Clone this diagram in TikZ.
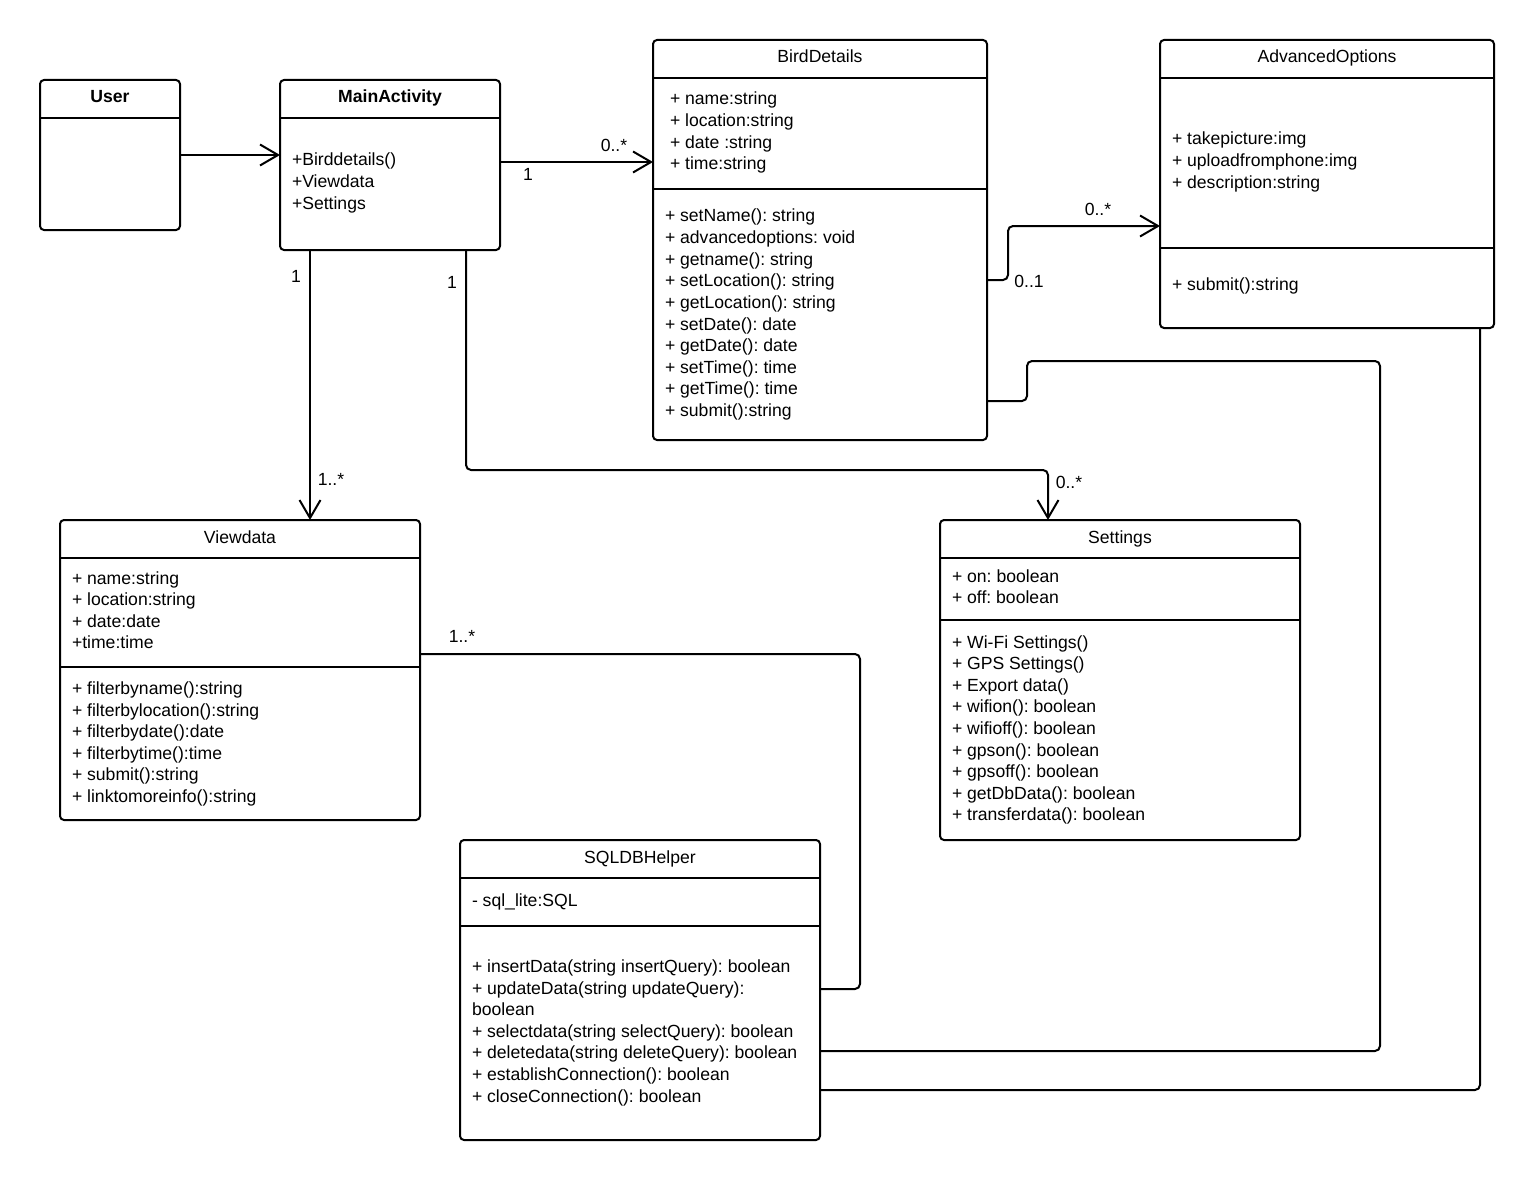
\documentclass[tikz,border=0pt]{standalone}
\usepackage{fontspec}
\setmainfont{Liberation Sans}
\frenchspacing
\usetikzlibrary{arrows.meta}
\newcommand\classlines[4]{%
  \foreach \t [count=\i] in {#4} {%
    \node[txt, anchor=base west] (#1\i) at (#2,{#3+(\i-1)*21.6}) {\t};
  }%
}
\begin{document}
\begin{tikzpicture}[x=1pt,y=-1pt,
  every node/.style={inner sep=0pt, outer sep=0pt},
  txt/.style={font=\fontsize{17.6}{21.6}\selectfont\frenchspacing},
  ttl/.style={txt, anchor=base},
  bttl/.style={font=\fontsize{17.6}{21.6}\selectfont\bfseries, anchor=base},
  lbl/.style={txt, anchor=center},
  classbox/.style={draw, line width=2pt, rounded corners=4pt, anchor=north west},
  divider/.style={line width=2pt},
  conn/.style={line width=2pt, rounded corners=5pt},
  arr/.style={conn, -{Straight Barb[length=18pt,width=21pt]}}
]
\useasboundingbox[fill=white] (0,0) rectangle (1535,1180);

% ---------- classes ----------
\node[classbox, minimum width=140pt, minimum height=150pt] (user) at (40,80) {};
\node[classbox, minimum width=220pt, minimum height=170pt] (main) at (280,80) {};
\node[classbox, minimum width=334pt, minimum height=400pt] (bird) at (653,40) {};
\node[classbox, minimum width=334pt, minimum height=288pt] (adv) at (1160,40) {};
\node[classbox, minimum width=360pt, minimum height=300pt] (view) at (60,520) {};
\node[classbox, minimum width=360pt, minimum height=320pt] (sett) at (940,520) {};
\node[classbox, minimum width=360pt, minimum height=300pt] (sql) at (460,840) {};

% dividers
\draw[divider] (user.west |- 0,118) -- (user.east |- 0,118);
\draw[divider] (main.west |- 0,118) -- (main.east |- 0,118);
\draw[divider] (bird.west |- 0,78) -- (bird.east |- 0,78);
\draw[divider] (bird.west |- 0,189) -- (bird.east |- 0,189);
\draw[divider] (adv.west |- 0,78) -- (adv.east |- 0,78);
\draw[divider] (adv.west |- 0,248) -- (adv.east |- 0,248);
\draw[divider] (view.west |- 0,558) -- (view.east |- 0,558);
\draw[divider] (view.west |- 0,667) -- (view.east |- 0,667);
\draw[divider] (sett.west |- 0,558) -- (sett.east |- 0,558);
\draw[divider] (sett.west |- 0,620) -- (sett.east |- 0,620);
\draw[divider] (sql.west |- 0,878) -- (sql.east |- 0,878);
\draw[divider] (sql.west |- 0,926) -- (sql.east |- 0,926);

% titles
\node[bttl] (userT) at (110,103) {User};
\node[bttl] (mainT) at (390,103) {MainActivity};
\node[ttl] (birdT) at (820,63) {BirdDetails};
\node[ttl] (advT) at (1327,63) {AdvancedOptions};
\node[ttl] (viewT) at (240,543) {Viewdata};
\node[ttl] (settT) at (1120,543) {Settings};
\node[ttl] (sqlT) at (640,863) {SQLDBHelper};

% members
\classlines{mainM}{292}{166}{+Birddetails(), +Viewdata, +Settings}
\classlines{birdA}{670}{105}{+ name:string, + location:string, + date :string, + time:string}
\classlines{birdM}{665}{222}{+ setName(): string, + advancedoptions: void, + getname(): string, + setLocation(): string, + getLocation(): string, + setDate(): date, + getDate(): date, + setTime(): time, + getTime(): time, + submit():string}
\classlines{advA}{1172}{145}{+ takepicture:img, + uploadfromphone:img, + description:string}
\classlines{advM}{1172}{290}{+ submit():string}
\classlines{viewA}{72}{584}{+ name:string, + location:string, + date:date, +time:time}
\classlines{viewM}{72}{694.5}{+ filterbyname():string, + filterbylocation():string, + filterbydate():date, + filterbytime():time, + submit():string, + linktomoreinfo():string}
\classlines{settA}{952}{582}{+ on: boolean, + off: boolean}
\classlines{settM}{952}{648}{+ Wi-Fi Settings(), + GPS Settings(), + Export data(), + wifion(): boolean, + wifioff(): boolean, + gpson(): boolean, + gpsoff(): boolean, + getDbData(): boolean, + transferdata(): boolean}
\classlines{sqlA}{472}{906}{- sql\_lite:SQL}
\classlines{sqlM}{472}{972.5}{+ insertData(string insertQuery): boolean, + updateData(string updateQuery):, boolean, + selectdata(string selectQuery): boolean, + deletedata(string deleteQuery): boolean, + establishConnection(): boolean, + closeConnection(): boolean}

% ---------- connectors ----------
\draw[arr] (user.east) -- (user.east -| main.west);
\draw[arr] (main.east |- 0,162) -- (bird.west |- 0,162);
\draw[arr] (main.south -| 310,0) -- (view.north -| 310,0);
\draw[arr] (main.south -| 466,0) |- (1048,470) -- (sett.north -| 1048,0);
\draw[arr] (bird.east |- 0,280) -- (1008,280) |- (adv.west |- 0,226);
\draw[conn] (bird.east |- 0,401) -- (1027,401) |- (1380,361) |- (sql.east |- 0,1051);
\draw[conn] (adv.south -| 1480,0) |- (sql.east |- 0,1090);
\draw[conn] (view.east |- 0,654) -| (860,989) -- (sql.east |- 0,989);

% multiplicities
\node[lbl] (m1) at (528,174) {1};
\node[lbl] (m2) at (614,145) {0..*};
\node[lbl] (m3) at (296,276) {1};
\node[lbl] (m4) at (452,282) {1};
\node[lbl] (m5) at (331,479) {1..*};
\node[lbl] (m6) at (1069,482) {0..*};
\node[lbl] (m7) at (1029,281) {0..1};
\node[lbl] (m8) at (1098,209) {0..*};
\node[lbl] (m9) at (462,636) {1..*};
\end{tikzpicture}
\end{document}
